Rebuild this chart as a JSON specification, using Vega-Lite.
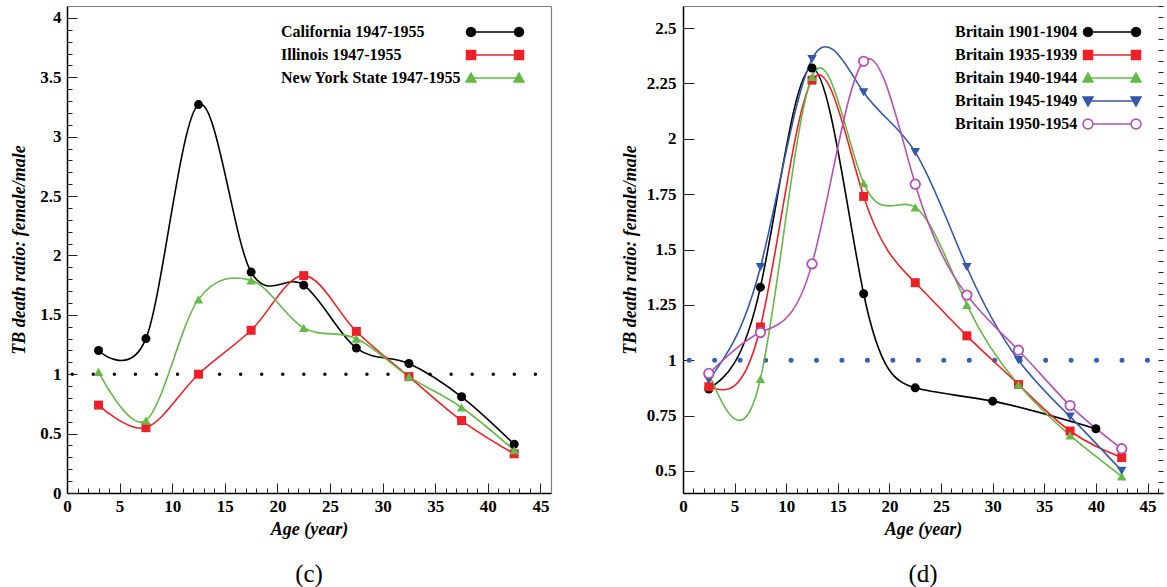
{
  "$schema": "https://vega.github.io/schema/vega-lite/v6.json",
  "background": "white",
  "padding": {"left": 10, "top": 5, "right": 0, "bottom": 0},
  "config": {
    "view": {"stroke": null},
    "font": "Liberation Serif",
    "axis": {"grid": false, "labelFont": "Liberation Serif", "labelFontWeight": "bold", "labelFontSize": 17, "labelColor": "#000", "titleFont": "Liberation Serif", "titleFontWeight": "bold", "titleFontStyle": "italic", "titleFontSize": 18, "titleColor": "#000", "domainColor": "#000", "domainWidth": 1.5, "tickColor": "#222", "tickWidth": 1, "labelFlush": false, "labelOverlap": false, "labelBound": false},
    "concat": {"spacing": 69},
    "title": {"font": "Liberation Serif", "fontSize": 25, "fontWeight": "normal", "color": "#000", "orient": "bottom", "anchor": "middle", "frame": "group", "offset": 24}
  },
  "datasets": {
    "left": [
      {"series": "California 1947-1955", "age": 3, "ratio": 1.20},
      {"series": "California 1947-1955", "age": 7.5, "ratio": 1.30},
      {"series": "California 1947-1955", "age": 12.5, "ratio": 3.27},
      {"series": "California 1947-1955", "age": 17.5, "ratio": 1.86},
      {"series": "California 1947-1955", "age": 22.5, "ratio": 1.75},
      {"series": "California 1947-1955", "age": 27.5, "ratio": 1.22},
      {"series": "California 1947-1955", "age": 32.5, "ratio": 1.09},
      {"series": "California 1947-1955", "age": 37.5, "ratio": 0.81},
      {"series": "California 1947-1955", "age": 42.5, "ratio": 0.41},
      {"series": "Illinois 1947-1955", "age": 3, "ratio": 0.74},
      {"series": "Illinois 1947-1955", "age": 7.5, "ratio": 0.55},
      {"series": "Illinois 1947-1955", "age": 12.5, "ratio": 1.00},
      {"series": "Illinois 1947-1955", "age": 17.5, "ratio": 1.37},
      {"series": "Illinois 1947-1955", "age": 22.5, "ratio": 1.83},
      {"series": "Illinois 1947-1955", "age": 27.5, "ratio": 1.36},
      {"series": "Illinois 1947-1955", "age": 32.5, "ratio": 0.98},
      {"series": "Illinois 1947-1955", "age": 37.5, "ratio": 0.61},
      {"series": "Illinois 1947-1955", "age": 42.5, "ratio": 0.33},
      {"series": "New York State 1947-1955", "age": 3, "ratio": 1.02},
      {"series": "New York State 1947-1955", "age": 7.5, "ratio": 0.61},
      {"series": "New York State 1947-1955", "age": 12.5, "ratio": 1.63},
      {"series": "New York State 1947-1955", "age": 17.5, "ratio": 1.79},
      {"series": "New York State 1947-1955", "age": 22.5, "ratio": 1.39},
      {"series": "New York State 1947-1955", "age": 27.5, "ratio": 1.30},
      {"series": "New York State 1947-1955", "age": 32.5, "ratio": 0.98},
      {"series": "New York State 1947-1955", "age": 37.5, "ratio": 0.72},
      {"series": "New York State 1947-1955", "age": 42.5, "ratio": 0.36}
    ],
    "right": [
      {"series": "Britain 1901-1904", "age": 2.5, "ratio": 0.87},
      {"series": "Britain 1901-1904", "age": 7.5, "ratio": 1.33},
      {"series": "Britain 1901-1904", "age": 12.5, "ratio": 2.32},
      {"series": "Britain 1901-1904", "age": 17.5, "ratio": 1.30},
      {"series": "Britain 1901-1904", "age": 22.5, "ratio": 0.875},
      {"series": "Britain 1901-1904", "age": 30, "ratio": 0.815},
      {"series": "Britain 1901-1904", "age": 40, "ratio": 0.69},
      {"series": "Britain 1935-1939", "age": 2.5, "ratio": 0.88},
      {"series": "Britain 1935-1939", "age": 7.5, "ratio": 1.15},
      {"series": "Britain 1935-1939", "age": 12.5, "ratio": 2.265},
      {"series": "Britain 1935-1939", "age": 17.5, "ratio": 1.74},
      {"series": "Britain 1935-1939", "age": 22.5, "ratio": 1.35},
      {"series": "Britain 1935-1939", "age": 27.5, "ratio": 1.11},
      {"series": "Britain 1935-1939", "age": 32.5, "ratio": 0.89},
      {"series": "Britain 1935-1939", "age": 37.5, "ratio": 0.68},
      {"series": "Britain 1935-1939", "age": 42.5, "ratio": 0.56},
      {"series": "Britain 1940-1944", "age": 2.5, "ratio": 0.94},
      {"series": "Britain 1940-1944", "age": 7.5, "ratio": 0.915},
      {"series": "Britain 1940-1944", "age": 12.5, "ratio": 2.28},
      {"series": "Britain 1940-1944", "age": 17.5, "ratio": 1.80},
      {"series": "Britain 1940-1944", "age": 22.5, "ratio": 1.69},
      {"series": "Britain 1940-1944", "age": 27.5, "ratio": 1.25},
      {"series": "Britain 1940-1944", "age": 32.5, "ratio": 0.89},
      {"series": "Britain 1940-1944", "age": 37.5, "ratio": 0.66},
      {"series": "Britain 1940-1944", "age": 42.5, "ratio": 0.475},
      {"series": "Britain 1945-1949", "age": 2.5, "ratio": 0.91},
      {"series": "Britain 1945-1949", "age": 7.5, "ratio": 1.42},
      {"series": "Britain 1945-1949", "age": 12.5, "ratio": 2.36},
      {"series": "Britain 1945-1949", "age": 17.5, "ratio": 2.21},
      {"series": "Britain 1945-1949", "age": 22.5, "ratio": 1.94},
      {"series": "Britain 1945-1949", "age": 27.5, "ratio": 1.42},
      {"series": "Britain 1945-1949", "age": 32.5, "ratio": 1.0},
      {"series": "Britain 1945-1949", "age": 37.5, "ratio": 0.745},
      {"series": "Britain 1945-1949", "age": 42.5, "ratio": 0.50},
      {"series": "Britain 1950-1954", "age": 2.5, "ratio": 0.94},
      {"series": "Britain 1950-1954", "age": 7.5, "ratio": 1.125},
      {"series": "Britain 1950-1954", "age": 12.5, "ratio": 1.435},
      {"series": "Britain 1950-1954", "age": 17.5, "ratio": 2.35},
      {"series": "Britain 1950-1954", "age": 22.5, "ratio": 1.795},
      {"series": "Britain 1950-1954", "age": 27.5, "ratio": 1.294},
      {"series": "Britain 1950-1954", "age": 32.5, "ratio": 1.045},
      {"series": "Britain 1950-1954", "age": 37.5, "ratio": 0.795},
      {"series": "Britain 1950-1954", "age": 42.5, "ratio": 0.60}
    ]
  },
  "resolve": {"scale": {"x": "independent", "y": "independent", "color": "independent", "fill": "independent", "stroke": "independent", "shape": "independent"}},
  "hconcat": [
    {
      "width": 484,
      "height": 487,
      "title": "(c)",
      "data": {"name": "left"},
      "resolve": {"axis": {"x": "independent", "y": "independent"}},
      "layer": [
        {
          "data": {"values": [{"ref": 1}]},
          "mark": {"type": "rule", "strokeDash": [0, 21.05], "strokeCap": "round", "strokeWidth": 3.5, "color": "#000"},
          "encoding": {
            "x": {"datum": 0.5, "type": "quantitative", "scale": {"domain": [0, 46], "nice": false, "zero": false}, "axis": {"orient": "top", "ticks": false, "labels": false, "title": null, "domainColor": "#808080", "domainWidth": 1.2}},
            "x2": {"datum": 44.6},
            "y": {"field": "ref", "type": "quantitative", "scale": {"domain": [0, 4.1], "nice": false, "zero": false}, "axis": {"orient": "right", "ticks": false, "labels": false, "title": null, "domainColor": "#808080", "domainWidth": 1.2}}
          }
        },
        {
          "mark": {"type": "line", "interpolate": "cardinal", "strokeWidth": 1.6},
          "encoding": {
            "x": {"field": "age", "type": "quantitative", "axis": {"values": [0, 5, 10, 15, 20, 25, 30, 35, 40, 45], "tickSize": -10, "labelPadding": 15, "format": "~g", "title": "Age (year)", "titlePadding": 6}},
            "y": {"field": "ratio", "type": "quantitative", "axis": {"values": [0, 0.5, 1, 1.5, 2, 2.5, 3, 3.5, 4], "tickSize": -10, "labelPadding": 16, "format": ".3~g", "title": "TB death ratio: female/male", "titlePadding": 11}},
            "stroke": {"field": "series", "type": "nominal", "scale": {"domain": ["California 1947-1955", "Illinois 1947-1955", "New York State 1947-1955"], "range": ["#000000", "#ed2027", "#66b947"]},
              "legend": {"orient": "none", "legendX": 196, "legendY": 18, "title": null, "symbolSize": 4, "symbolStrokeWidth": 1.5, "symbolOpacity": 1, "labelOffset": 2, "rowPadding": 7, "padding": 0, "labelFont": "Liberation Serif", "labelFontWeight": "bold", "labelFontSize": 16, "labelColor": "#000", "labelLimit": 0}}
          }
        },
        {
          "transform": [{"filter": "datum.series === 'California 1947-1955'"}],
          "mark": {"type": "point", "shape": "circle", "filled": true, "size": 81, "color": "#000000", "opacity": 1},
          "encoding": {
            "x": {"field": "age", "type": "quantitative", "axis": {"values": [0,1,2,3,4,5,6,7,8,9,10,11,12,13,14,15,16,17,18,19,20,21,22,23,24,25,26,27,28,29,30,31,32,33,34,35,36,37,38,39,40,41,42,43,44,45,46], "tickSize": -5, "labels": false, "domain": false, "title": null}},
            "y": {"field": "ratio", "type": "quantitative", "axis": {"values": [0,0.1,0.2,0.3,0.4,0.5,0.6,0.7,0.8,0.9,1,1.1,1.2,1.3,1.4,1.5,1.6,1.7,1.8,1.9,2,2.1,2.2,2.3,2.4,2.5,2.6,2.7,2.8,2.9,3,3.1,3.2,3.3,3.4,3.5,3.6,3.7,3.8,3.9,4], "tickSize": -5, "labels": false, "domain": false, "title": null}}
          }
        },
        {
          "transform": [{"filter": "datum.series === 'Illinois 1947-1955'"}],
          "mark": {"type": "point", "shape": "square", "filled": true, "size": 81, "color": "#ed2027", "opacity": 1},
          "encoding": {
            "x": {"field": "age", "type": "quantitative", "axis": null},
            "y": {"field": "ratio", "type": "quantitative", "axis": null}
          }
        },
        {
          "transform": [{"filter": "datum.series === 'New York State 1947-1955'"}],
          "mark": {"type": "point", "shape": "triangle-up", "filled": true, "size": 90, "color": "#66b947", "opacity": 1},
          "encoding": {
            "x": {"field": "age", "type": "quantitative", "axis": null},
            "y": {"field": "ratio", "type": "quantitative", "axis": null}
          }
        },
        {
          "transform": [{"filter": "false"}],
          "mark": {"type": "point", "filled": true, "size": 4},
          "encoding": {
            "shape": {"field": "series", "type": "nominal", "scale": {"domain": ["California 1947-1955", "Illinois 1947-1955", "New York State 1947-1955"], "range": ["M200,0L248,0M204.5,0L203.9,2.25L202.25,3.9L200,4.5L197.75,3.9L196.1,2.25L195.5,0L196.1,-2.25L197.75,-3.9L200,-4.5L202.25,-3.9L203.9,-2.25ZM252.5,0L251.9,2.25L250.25,3.9L248,4.5L245.75,3.9L244.1,2.25L243.5,0L244.1,-2.25L245.75,-3.9L248,-4.5L250.25,-3.9L251.9,-2.25Z", "M200,0L248,0M195.5,-4.5L204.5,-4.5L204.5,4.5L195.5,4.5ZM243.5,-4.5L252.5,-4.5L252.5,4.5L243.5,4.5Z", "M200,0L248,0M200,-5L205,4L195,4ZM248,-5L253,4L243,4Z"]},
              "legend": {"orient": "none", "legendX": 196, "legendY": 18, "title": null, "symbolSize": 4, "symbolStrokeWidth": 1.5, "symbolOpacity": 1, "labelOffset": 2, "rowPadding": 7, "padding": 0, "labelFont": "Liberation Serif", "labelFontWeight": "bold", "labelFontSize": 16, "labelColor": "#000", "labelLimit": 0}},
            "fill": {"field": "series", "type": "nominal", "scale": {"domain": ["California 1947-1955", "Illinois 1947-1955", "New York State 1947-1955"], "range": ["#000000", "#ed2027", "#66b947"]},
              "legend": {"orient": "none", "legendX": 196, "legendY": 18, "title": null, "symbolSize": 4, "symbolStrokeWidth": 1.5, "symbolOpacity": 1, "labelOffset": 2, "rowPadding": 7, "padding": 0, "labelFont": "Liberation Serif", "labelFontWeight": "bold", "labelFontSize": 16, "labelColor": "#000", "labelLimit": 0}},
            "stroke": {"field": "series", "type": "nominal",
              "legend": {"orient": "none", "legendX": 196, "legendY": 18, "title": null, "symbolSize": 4, "symbolStrokeWidth": 1.5, "symbolOpacity": 1, "labelOffset": 2, "rowPadding": 7, "padding": 0, "labelFont": "Liberation Serif", "labelFontWeight": "bold", "labelFontSize": 16, "labelColor": "#000", "labelLimit": 0}}
          }
        }
      ]
    },
    {
      "width": 480,
      "height": 487,
      "title": "(d)",
      "data": {"name": "right"},
      "resolve": {"axis": {"x": "independent", "y": "independent"}},
      "layer": [
        {
          "data": {"values": [{"ref": 1}]},
          "mark": {"type": "rule", "strokeDash": [0, 25.46], "strokeCap": "round", "strokeWidth": 5, "color": "#3a5fb0"},
          "encoding": {
            "x": {"datum": 0.6, "type": "quantitative", "scale": {"domain": [0, 46.5], "nice": false, "zero": false}, "axis": {"orient": "top", "ticks": false, "labels": false, "title": null, "domainColor": "#808080", "domainWidth": 1.2}},
            "x2": {"datum": 45.05},
            "y": {"field": "ref", "type": "quantitative", "scale": {"domain": [0.4, 2.6], "nice": false, "zero": false}, "axis": null}
          }
        },
        {
          "mark": {"type": "line", "interpolate": "natural", "strokeWidth": 1.6},
          "encoding": {
            "x": {"field": "age", "type": "quantitative", "axis": {"values": [0, 5, 10, 15, 20, 25, 30, 35, 40, 45], "tickSize": -10, "labelPadding": 15, "format": "~g", "title": "Age (year)", "titlePadding": 6}},
            "y": {"field": "ratio", "type": "quantitative", "axis": {"values": [0.5, 0.75, 1, 1.25, 1.5, 1.75, 2, 2.25, 2.5], "tickSize": -11, "labelPadding": 18, "format": ".3~g", "title": "TB death ratio: female/male", "titlePadding": 7}},
            "stroke": {"field": "series", "type": "nominal", "scale": {"domain": ["Britain 1901-1904", "Britain 1935-1939", "Britain 1940-1944", "Britain 1945-1949", "Britain 1950-1954"], "range": ["#000000", "#ed2027", "#66b947", "#3557a8", "#b352b3"]},
              "legend": {"orient": "none", "legendX": 254, "legendY": 18, "title": null, "symbolSize": 4, "symbolStrokeWidth": 1.5, "symbolOpacity": 1, "labelOffset": 2, "rowPadding": 7, "padding": 0, "labelFont": "Liberation Serif", "labelFontWeight": "bold", "labelFontSize": 16, "labelColor": "#000", "labelLimit": 0}}
          }
        },
        {
          "transform": [{"filter": "datum.series === 'Britain 1901-1904'"}],
          "mark": {"type": "point", "shape": "circle", "filled": true, "size": 81, "color": "#000000", "opacity": 1},
          "encoding": {
            "x": {"field": "age", "type": "quantitative", "axis": {"values": [0,1,2,3,4,5,6,7,8,9,10,11,12,13,14,15,16,17,18,19,20,21,22,23,24,25,26,27,28,29,30,31,32,33,34,35,36,37,38,39,40,41,42,43,44,45,46], "tickSize": -5, "labels": false, "domain": false, "title": null}},
            "y": {"field": "ratio", "type": "quantitative", "axis": {"values": [0.4,0.45,0.5,0.55,0.6,0.65,0.7,0.75,0.8,0.85,0.9,0.95,1,1.05,1.1,1.15,1.2,1.25,1.3,1.35,1.4,1.45,1.5,1.55,1.6,1.65,1.7,1.75,1.8,1.85,1.9,1.95,2,2.05,2.1,2.15,2.2,2.25,2.3,2.35,2.4,2.45,2.5,2.55,2.6], "tickSize": -5, "labels": false, "domain": false, "title": null}}
          }
        },
        {
          "transform": [{"filter": "datum.series === 'Britain 1935-1939'"}],
          "mark": {"type": "point", "shape": "square", "filled": true, "size": 81, "color": "#ed2027", "opacity": 1},
          "encoding": {
            "x": {"field": "age", "type": "quantitative", "axis": null},
            "y": {"field": "ratio", "type": "quantitative", "axis": null}
          }
        },
        {
          "transform": [{"filter": "datum.series === 'Britain 1940-1944'"}],
          "mark": {"type": "point", "shape": "triangle-up", "filled": true, "size": 90, "color": "#66b947", "opacity": 1},
          "encoding": {
            "x": {"field": "age", "type": "quantitative", "axis": null},
            "y": {"field": "ratio", "type": "quantitative", "axis": null}
          }
        },
        {
          "transform": [{"filter": "datum.series === 'Britain 1945-1949'"}],
          "mark": {"type": "point", "shape": "triangle-down", "filled": true, "size": 90, "color": "#3557a8", "opacity": 1},
          "encoding": {
            "x": {"field": "age", "type": "quantitative", "axis": null},
            "y": {"field": "ratio", "type": "quantitative", "axis": null}
          }
        },
        {
          "transform": [{"filter": "datum.series === 'Britain 1950-1954'"}],
          "mark": {"type": "point", "shape": "circle", "filled": false, "fill": "#ffffff", "size": 90, "stroke": "#b352b3", "strokeWidth": 1.8, "opacity": 1},
          "encoding": {
            "x": {"field": "age", "type": "quantitative", "axis": null},
            "y": {"field": "ratio", "type": "quantitative", "axis": null}
          }
        },
        {
          "transform": [{"filter": "false"}],
          "mark": {"type": "point", "filled": true, "size": 4},
          "encoding": {
            "shape": {"field": "series", "type": "nominal", "scale": {"domain": ["Britain 1901-1904", "Britain 1935-1939", "Britain 1940-1944", "Britain 1945-1949", "Britain 1950-1954"], "range": ["M143,0L191,0M147.5,0L146.9,2.25L145.25,3.9L143,4.5L140.75,3.9L139.1,2.25L138.5,0L139.1,-2.25L140.75,-3.9L143,-4.5L145.25,-3.9L146.9,-2.25ZM195.5,0L194.9,2.25L193.25,3.9L191,4.5L188.75,3.9L187.1,2.25L186.5,0L187.1,-2.25L188.75,-3.9L191,-4.5L193.25,-3.9L194.9,-2.25Z", "M143,0L191,0M138.5,-4.5L147.5,-4.5L147.5,4.5L138.5,4.5ZM186.5,-4.5L195.5,-4.5L195.5,4.5L186.5,4.5Z", "M143,0L191,0M143,-5L148,4L138,4ZM191,-5L196,4L186,4Z", "M143,0L191,0M138,-4L148,-4L143,5ZM186,-4L196,-4L191,5Z", "M148,0L186,0M148,0L147.33,2.5L145.5,4.33L143,5L140.5,4.33L138.67,2.5L138,0L138.67,-2.5L140.5,-4.33L143,-5L145.5,-4.33L147.33,-2.5ZM196,0L195.33,2.5L193.5,4.33L191,5L188.5,4.33L186.67,2.5L186,0L186.67,-2.5L188.5,-4.33L191,-5L193.5,-4.33L195.33,-2.5Z"]},
              "legend": {"orient": "none", "legendX": 254, "legendY": 18, "title": null, "symbolSize": 4, "symbolStrokeWidth": 1.5, "symbolOpacity": 1, "labelOffset": 2, "rowPadding": 7, "padding": 0, "labelFont": "Liberation Serif", "labelFontWeight": "bold", "labelFontSize": 16, "labelColor": "#000", "labelLimit": 0}},
            "fill": {"field": "series", "type": "nominal", "scale": {"domain": ["Britain 1901-1904", "Britain 1935-1939", "Britain 1940-1944", "Britain 1945-1949", "Britain 1950-1954"], "range": ["#000000", "#ed2027", "#66b947", "#3557a8", "#ffffff"]},
              "legend": {"orient": "none", "legendX": 254, "legendY": 18, "title": null, "symbolSize": 4, "symbolStrokeWidth": 1.5, "symbolOpacity": 1, "labelOffset": 2, "rowPadding": 7, "padding": 0, "labelFont": "Liberation Serif", "labelFontWeight": "bold", "labelFontSize": 16, "labelColor": "#000", "labelLimit": 0}},
            "stroke": {"field": "series", "type": "nominal",
              "legend": {"orient": "none", "legendX": 254, "legendY": 18, "title": null, "symbolSize": 4, "symbolStrokeWidth": 1.5, "symbolOpacity": 1, "labelOffset": 2, "rowPadding": 7, "padding": 0, "labelFont": "Liberation Serif", "labelFontWeight": "bold", "labelFontSize": 16, "labelColor": "#000", "labelLimit": 0}}
          }
        }
      ]
    }
  ]
}
